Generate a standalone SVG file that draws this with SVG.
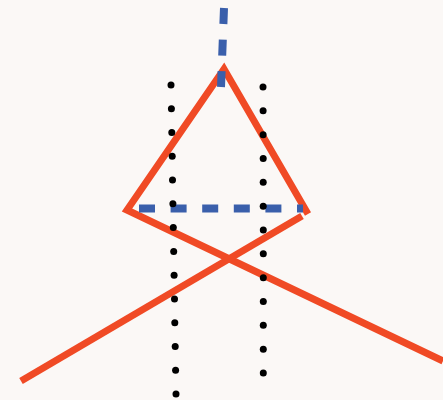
<svg xmlns="http://www.w3.org/2000/svg" width="443" height="400" viewBox="0 0 443 400">
<style>
.red{fill:none;stroke:#f04a25;stroke-width:7;stroke-linecap:butt;stroke-linejoin:miter;stroke-miterlimit:10}
.blue{fill:none;stroke:#3a5fab;stroke-width:8;stroke-dasharray:16 15.6}
.dot{fill:#000}
</style>
<rect width="443" height="400" fill="#fbf8f6"/>
<g id="red-lines">
<polyline class="red" points="443,361 127,210 224,69 308,214"/>
<line class="red" x1="302" y1="216" x2="21" y2="381"/>
</g>
<g id="blue-dashes">
<line class="blue" x1="224" y1="8" x2="221" y2="87" stroke-width="7"/>
<line class="blue" x1="139" y1="208.5" x2="303" y2="208.5"/>
</g>
<g id="dots-left" class="dot">
<circle cx="171" cy="85" r="3.5"/><circle cx="171.4" cy="108.8" r="3.5"/><circle cx="171.8" cy="132.5" r="3.5"/><circle cx="172.2" cy="156.3" r="3.5"/><circle cx="172.5" cy="180.1" r="3.5"/><circle cx="172.9" cy="203.8" r="3.5"/><circle cx="173.3" cy="227.6" r="3.5"/><circle cx="173.7" cy="251.4" r="3.5"/><circle cx="174.1" cy="275.2" r="3.5"/><circle cx="174.5" cy="298.9" r="3.5"/><circle cx="174.8" cy="322.7" r="3.5"/><circle cx="175.2" cy="346.5" r="3.5"/><circle cx="175.6" cy="370.2" r="3.5"/><circle cx="176" cy="394" r="3.5"/>
</g>
<g id="dots-right" class="dot">
<circle cx="263" cy="87" r="3.5"/><circle cx="263.1" cy="110.8" r="3.5"/><circle cx="263.1" cy="134.7" r="3.5"/><circle cx="263.2" cy="158.5" r="3.5"/><circle cx="263.2" cy="182.3" r="3.5"/><circle cx="263.2" cy="206.2" r="3.5"/><circle cx="263.3" cy="230" r="3.5"/><circle cx="263.3" cy="253.8" r="3.5"/><circle cx="263.3" cy="277.7" r="3.5"/><circle cx="263.3" cy="301.5" r="3.5"/><circle cx="263.3" cy="325.3" r="3.5"/><circle cx="263.3" cy="349.2" r="3.5"/><circle cx="263.3" cy="373" r="3.5"/>
</g>
</svg>
